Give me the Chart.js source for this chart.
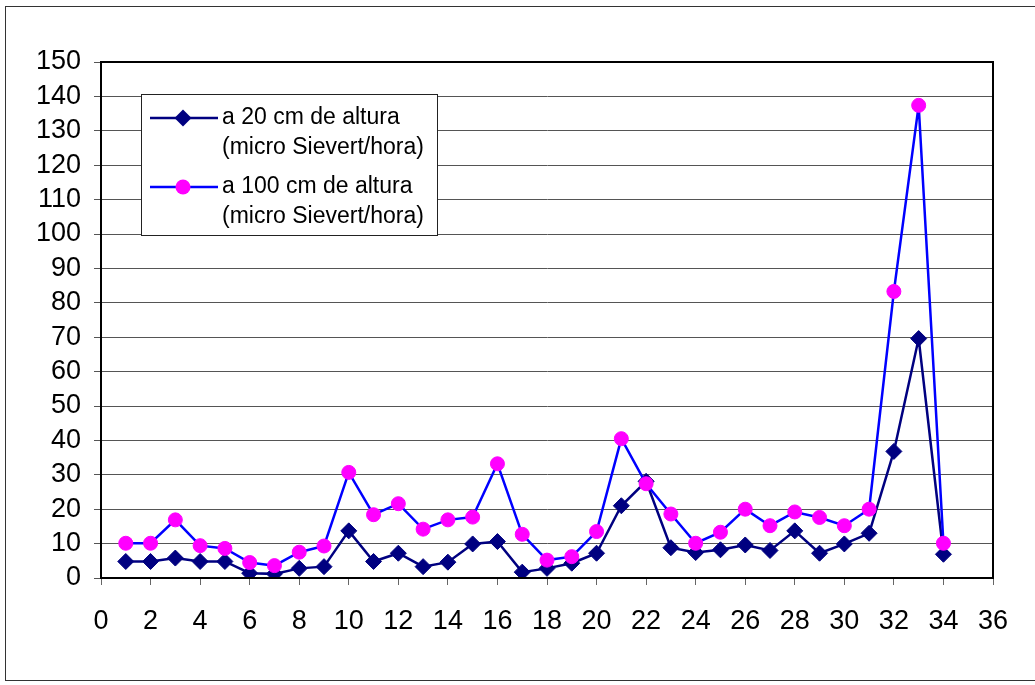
<!DOCTYPE html>
<html>
<head>
<meta charset="utf-8">
<script src="https://cdn.jsdelivr.net/npm/chart.js@4.4.1/dist/chart.umd.min.js"></script>
<style>
  html, body { margin: 0; padding: 0; background: #fff; }
  #wrap { position: relative; width: 1035px; height: 685px; }
  #frame { position: absolute; left: 5px; top: 6px; width: 1040px; height: 675px; border: 1px solid #333; box-sizing: border-box; }
</style>
</head>
<body>
<div id="wrap">
  <div id="frame"></div>
  <canvas id="chart" width="1035" height="685" style="position:absolute;left:0;top:0"></canvas>
</div>
<script>
// x positions of the measurement points
const points = [1, 2, 3, 4, 5, 6, 7, 8, 9, 10, 11, 12, 13, 14, 15, 16, 17,
                18, 19, 20, 21, 22, 23, 24, 25, 26, 27, 28, 29, 30, 31, 32, 33, 34];

// a 20 cm de altura
const at20cm = [4.8, 4.8, 5.8, 4.8, 4.8, 1.4, 1.2, 2.8, 3.3, 13.7, 4.8, 7.2, 3.3, 4.6, 9.9, 10.6, 1.7,
                2.8, 4.3, 7.2, 21.0, 28.1, 8.8, 7.4, 8.2, 9.6, 8.0, 13.7, 7.2, 9.9, 13.0, 36.8, 69.6, 6.9];

// a 100 cm de altura
const at100cm = [10.1, 10.1, 16.9, 9.4, 8.6, 4.5, 3.6, 7.5, 9.3, 30.7, 18.4, 21.6, 14.2, 16.9, 17.7, 33.2, 12.7,
                 5.2, 6.2, 13.5, 40.5, 27.4, 18.6, 10.1, 13.3, 20.0, 15.2, 19.2, 17.6, 15.2, 20.0, 83.3, 137.4, 10.1];

const seriesLabels = [
    ['a 20 cm de altura', '(micro Sievert/hora)'],
    ['a 100 cm de altura', '(micro Sievert/hora)']
];

const xTicks = { min: 0, max: 36, step: 2 };
const yTicks = { min: 0, max: 150, step: 10 };

const toXY = (values) => values.map((v, i) => ({ x: points[i], y: v }));

const FONT = '"Liberation Sans", Arial, sans-serif';

// plot border + two-line legend box
const extras = {
    id: 'extras',
    afterDraw(chart) {
        const ctx = chart.ctx;
        const a = chart.chartArea;
        ctx.save();
        ctx.strokeStyle = '#000';
        ctx.lineWidth = 2;
        ctx.strokeRect(a.left, a.top, a.right - a.left, a.bottom - a.top);

        // legend
        const lx = 141, ly = 94, lw = 296, lh = 141;
        ctx.fillStyle = '#fff';
        ctx.fillRect(lx, ly, lw, lh);
        ctx.strokeStyle = '#222';
        ctx.lineWidth = 1;
        ctx.strokeRect(lx + 0.5, ly + 0.5, lw, lh);

        const rows = [118, 187];
        chart.data.datasets.forEach((ds, i) => {
            const y = rows[i];
            ctx.strokeStyle = ds.borderColor;
            ctx.lineWidth = 2.5;
            ctx.beginPath();
            ctx.moveTo(150, y);
            ctx.lineTo(218, y);
            ctx.stroke();
            ctx.fillStyle = ds.pointBackgroundColor;
            ctx.beginPath();
            if (ds.pointStyle === 'rectRot') {
                const r = 8.5;
                ctx.moveTo(183 - r, y);
                ctx.lineTo(183, y - r);
                ctx.lineTo(183 + r, y);
                ctx.lineTo(183, y + r);
                ctx.closePath();
            } else {
                ctx.arc(183, y, 7.5, 0, Math.PI * 2);
            }
            ctx.fill();

            ctx.fillStyle = '#000';
            ctx.font = '23px ' + FONT;
            ctx.textBaseline = 'middle';
            ctx.textAlign = 'left';
            ctx.fillText(seriesLabels[i][0], 222, y);
            ctx.fillText(seriesLabels[i][1], 222, y + 30);
        });
        ctx.restore();
    }
};

const ctx = document.getElementById('chart');

const chart = new Chart(ctx, {
    type: 'line',
    data: {
        datasets: [
            {
                label: seriesLabels[0].join(' '),
                data: toXY(at20cm),
                borderColor: '#000080',
                backgroundColor: '#000080',
                pointBackgroundColor: '#000080',
                pointBorderColor: '#000080',
                pointStyle: 'rectRot',
                pointRadius: 8,
                pointBorderWidth: 1,
                borderWidth: 2.5,
                tension: 0,
                order: 2
            },
            {
                label: seriesLabels[1].join(' '),
                data: toXY(at100cm),
                borderColor: '#0000FF',
                backgroundColor: '#FF00FF',
                pointBackgroundColor: '#FF00FF',
                pointBorderColor: '#FF00FF',
                pointStyle: 'circle',
                pointRadius: 7,
                pointBorderWidth: 1,
                borderWidth: 2.5,
                tension: 0,
                order: 1
            }
        ]
    },
    options: {
        responsive: false,
        animation: false,
        events: [],
        layout: { padding: { left: 10, right: 42, top: 62, bottom: 40 } },
        plugins: {
            legend: { display: false },
            tooltip: { enabled: false }
        },
        scales: {
            x: {
                type: 'linear',
                min: xTicks.min,
                max: xTicks.max,
                afterFit: (s) => { s.height = 67; },
                border: { color: '#000', width: 2 },
                grid: { drawOnChartArea: false, drawTicks: true, tickLength: 7, color: '#666' },
                ticks: {
                    stepSize: xTicks.step,
                    autoSkip: false,
                    padding: 20,
                    color: '#000',
                    font: { family: FONT, size: 27 },
                    maxRotation: 0
                }
            },
            y: {
                min: yTicks.min,
                max: yTicks.max,
                afterFit: (s) => { s.width = 91; },
                border: { color: '#000', width: 2 },
                grid: { color: '#555', lineWidth: 1, tickLength: 7 },
                ticks: {
                    stepSize: yTicks.step,
                    autoSkip: false,
                    padding: 13,
                    color: '#000',
                    font: { family: FONT, size: 27 }
                }
            }
        }
    },
    plugins: [extras]
});
</script>
</body>
</html>
